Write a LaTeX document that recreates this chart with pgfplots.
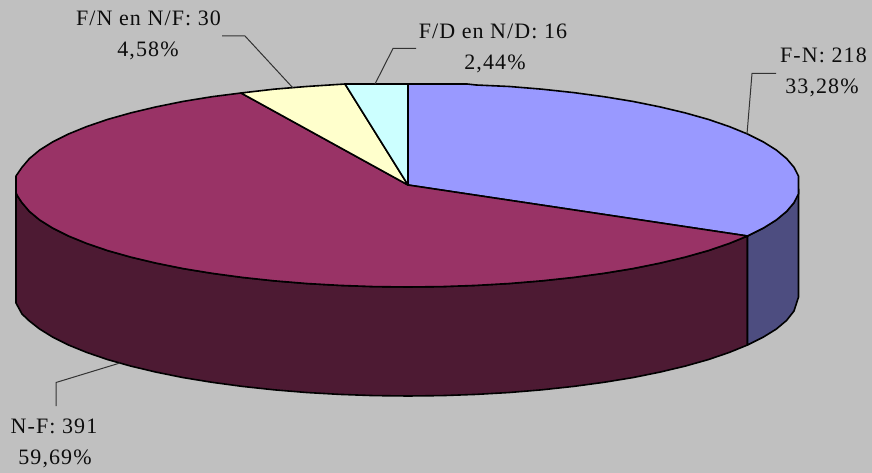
\documentclass[border=0pt]{standalone}
\usepackage{fontspec}
\setmainfont[LetterSpace=5]{Liberation Serif}
\usepackage{pgfplots}
\pgfplotsset{compat=1.18}
\definecolor{bg}{HTML}{C0C0C0}
\definecolor{fn}{HTML}{9999FF}
\definecolor{fnside}{HTML}{4D4D80}
\definecolor{nf}{HTML}{993366}
\definecolor{nfside}{HTML}{4D1A33}
\definecolor{fnnf}{HTML}{FFFFCC}
\definecolor{fdnd}{HTML}{CCFFFF}
\tikzset{
  lbl/.style={anchor=base, inner sep=0pt, font=\fontsize{22}{26}\selectfont, text=black!95},
  leader/.style={draw=black!80, line width=1pt},
  slice/.style={draw=black, line width=1.6pt, line join=round},
}
\begin{document}
\begin{tikzpicture}
\begin{axis}[
  scale only axis,
  width=872pt, height=473pt,
  xmin=0, xmax=872, ymin=0, ymax=473,
  y dir=reverse,
  axis lines=none, ticks=none,
  clip=false,
  axis background/.style={fill=bg},
]
% side walls
\addplot[slice, fill=nfside] coordinates {
  (747.5,236) (729.1,243.5) (708.3,250.6) (685.2,257.1) (660,263.1) (632.8,268.6)
  (604,273.3) (573.7,277.4) (542.1,280.8) (509.5,283.5) (476.1,285.4) (442.2,286.6)
  (408,287) (373.8,286.6) (339.9,285.4) (306.5,283.5) (273.9,280.8) (242.3,277.4)
  (212,273.3) (183.2,268.6) (156,263.1) (130.8,257.1) (107.7,250.6) (86.9,243.5)
  (68.5,236) (52.7,228.1) (39.6,219.9) (29.4,211.4) (22,202.7) (17.5,196) (16,193)
  (16,303) (22,314) (29.4,321) (39.6,329) (52.7,337.1) (68.5,345)
  (86.9,352.5) (107.7,359.6) (130.8,366.1) (156,372.1) (183.2,377.6) (212,382.3)
  (242.3,386.4) (273.9,389.8) (306.5,392.5) (339.9,394.4) (373.8,395.6) (408,396)
  (442.2,395.6) (476.1,394.4) (509.5,392.5) (542.1,389.8) (573.7,386.4) (604,382.3)
  (632.8,377.6) (660,372.1) (685.2,366.1) (708.3,359.6) (729.1,352.5) (747.5,345)
} --cycle;
\addplot[slice, fill=fnside] coordinates {
  (798.5,189) (794,202.7) (786.6,211.4) (776.4,219.9) (763.3,228.1) (747.5,236)
  (747.5,345) (763.3,337.1) (776.4,329) (786.6,320.4) (794,311) (798.5,297)
} --cycle;
% top slices
\addplot[slice, fill=fn] coordinates {
  (408,185) (408,84) (442.2,84) (467,84) (476.1,85) (509.5,86.5) (542.1,89.2) (573.7,92.6)
  (604,96.7) (632.8,101.4) (660,106.9) (685.2,112.9) (708.3,119.4) (729.1,126.5)
  (747.5,134) (763.3,141.9) (776.4,150.1) (786.6,158.6) (794,167.3) (798.5,176.1)
  (798.5,193.9) (794,202.7) (786.6,211.4) (776.4,219.9) (763.3,228.1) (747.5,236)
} --cycle;
\addplot[slice, fill=nf] coordinates {
  (408,185) (747.5,236) (729.1,243.5) (708.3,250.6) (685.2,257.1) (660,263.1) (632.8,268.6)
  (604,273.3) (573.7,277.4) (542.1,280.8) (509.5,283.5) (476.1,285.4) (442.2,286.6)
  (408,287) (373.8,286.6) (339.9,285.4) (306.5,283.5) (273.9,280.8) (242.3,277.4)
  (212,273.3) (183.2,268.6) (156,263.1) (130.8,257.1) (107.7,250.6) (86.9,243.5)
  (68.5,236) (52.7,228.1) (39.6,219.9) (29.4,211.4) (22,202.7) (17.5,196) (16,193)
  (16,176) (22,167.3) (29.4,158.6) (39.6,150.1) (52.7,141.9) (68.5,134) (86.9,126.5)
  (107.7,119.4) (130.8,112.9) (156,106.9) (183.2,101.4) (212,96.7) (241,93)
} --cycle;
\addplot[slice, fill=fnnf] coordinates {
  (408,185) (241,93) (273.9,89.2) (306.5,86.5) (345,84)
} --cycle;
\addplot[slice, fill=fdnd] coordinates {
  (408,185) (345,84) (373.8,84) (408,84)
} --cycle;
% leader lines
\addplot[leader] coordinates {(747,134) (752,73.5) (776,73.5)};
\addplot[leader] coordinates {(375,84) (393,48.5) (416,48.5)};
\addplot[leader] coordinates {(293,88) (245,36) (222,36)};
\addplot[leader] coordinates {(120,363) (56,382.5) (56,406)};
% labels
\node[lbl] at (axis cs:823.5,63) {F-N: 218};
\node[lbl] at (axis cs:822,94) {33,28\%};
\node[lbl] at (axis cs:493,39) {F/D en N/D: 16};
\node[lbl] at (axis cs:495,70) {2,44\%};
\node[lbl] at (axis cs:148.5,26) {F/N en N/F: 30};
\node[lbl] at (axis cs:148,57) {4,58\%};
\node[lbl] at (axis cs:54,433) {N-F: 391};
\node[lbl] at (axis cs:55,464) {59,69\%};
\end{axis}
\end{tikzpicture}
\end{document}
